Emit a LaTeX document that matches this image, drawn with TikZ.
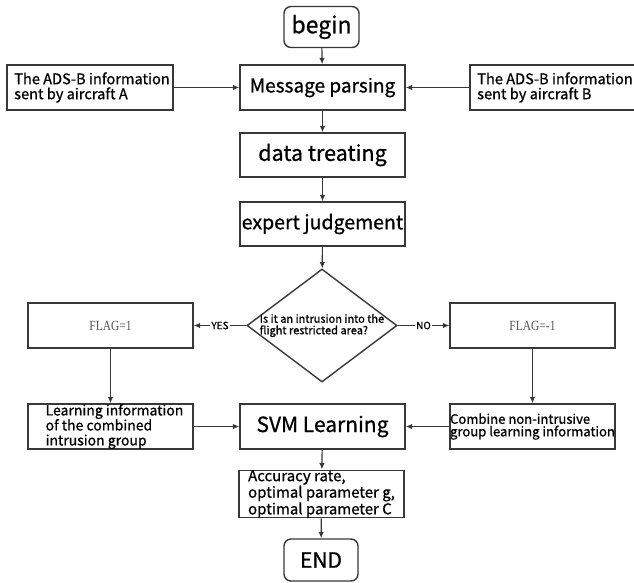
\documentclass[tikz,border=0pt]{standalone}
\usepackage{fontspec}
\setmainfont{Noto Sans CJK SC}[UprightFeatures={FakeBold=0.8}]
\newfontfamily\flagfont{Liberation Serif}[FakeStretch=0.82]
\usetikzlibrary{arrows.meta,shapes.geometric}
\definecolor{linec}{HTML}{383838}
\definecolor{flagc}{HTML}{555555}
\begin{document}
\begin{tikzpicture}[x=1pt,y=-1pt,
  box/.style={draw=linec, line width=1.4pt, rectangle, inner sep=0pt,
    minimum width=165pt, minimum height=45pt, align=left, text=black},
  term/.style={box, rounded corners=7pt, minimum width=75pt, minimum height=41pt},
  big/.style={font=\fontsize{19}{21}\selectfont},
  mid/.style={font=\fontsize{14}{15}\selectfont},
  flag/.style={font=\flagfont\fontsize{14}{15}\selectfont, text=flagc},
  arr/.style={draw=linec, line width=1.2pt, -{Latex[length=6.5pt,width=5.5pt]}},
  lbl/.style={fill=white, inner sep=1pt, font=\fontsize{10}{11}\selectfont}
]
\fill[white] (0,0) rectangle (634,582);
\useasboundingbox (0,0) rectangle (634,582);
\clip (0,0) rectangle (634,582);

\node[term, font=\fontsize{23}{25}\selectfont] (begin) at (321.5,27) {begin};
\node[box, big] (mp) at (322.5,87.5) {Message parsing};
\node[box, font=\fontsize{14.6}{15}\selectfont, minimum width=166pt] (adsa) at (90,87.5) {\hspace*{4pt}The ADS-B information\\\hspace*{4pt}sent by aircraft A};
\node[box, font=\fontsize{14.6}{15}\selectfont, minimum width=170pt] (adsb) at (555,87.5) {The ADS-B information\\sent by aircraft B};
\node[box, font=\fontsize{21.5}{23}\selectfont, minimum height=44pt] (dt) at (322.5,155) {data treating};
\node[box, font=\fontsize{19.5}{21}\selectfont, minimum height=44pt] (ej) at (322.5,224) {expert judgement};
\node[diamond, draw=linec, line width=1.4pt, inner sep=0pt,
  minimum width=150pt, minimum height=113pt] (dia) at (322,325.5) {};
\node[align=left, inner sep=0pt, font=\fontsize{11}{11.5}\selectfont] (q) at (dia.center)
  {Is it an intrusion into the\\flight restricted area?};
\node[box, flag] (f1) at (110.5,325.5) {FLAG=1};
\node[box, flag] (f2) at (532.5,325.5) {FLAG=-1};
\node[box, mid] (li) at (110.5,426.5) {\hspace*{8pt}Learning information\\\hspace*{8pt}of the combined\\\hspace*{8pt}intrusion group};
\node[box, font=\fontsize{21}{23}\selectfont] (svm) at (322.5,426.5) {SVM Learning};
\node[box, font=\fontsize{13.1}{12.5}\selectfont] (cn) at (532.5,426.5) {Combine non-intrusive\\group learning information};
\node[box, font=\fontsize{15}{14}\selectfont, minimum height=44pt] (acc) at (321.5,494) {Accuracy rate,\\optimal parameter g,\\optimal parameter C};
\node[term, font=\fontsize{21}{23}\selectfont, minimum width=74pt, minimum height=42pt] (end) at (321,560) {END};

\draw[arr] (begin) -- (mp);
\draw[arr] (adsa) -- (mp);
\draw[arr] (adsb) -- (mp);
\draw[arr] (mp) -- (dt);
\draw[arr] (dt) -- (ej);
\draw[arr] (ej) -- (dia);
\draw[arr] (dia.west) -- node[lbl]{YES} (f1);
\draw[arr] (dia.east) -- node[lbl]{NO} (f2);
\draw[arr] (f1) -- (li);
\draw[arr] (f2) -- (cn);
\draw[arr] (li) -- (svm);
\draw[arr] (cn) -- (svm);
\draw[arr] (svm) -- (acc);
\draw[arr] (acc) -- (end);
\end{tikzpicture}
\end{document}
